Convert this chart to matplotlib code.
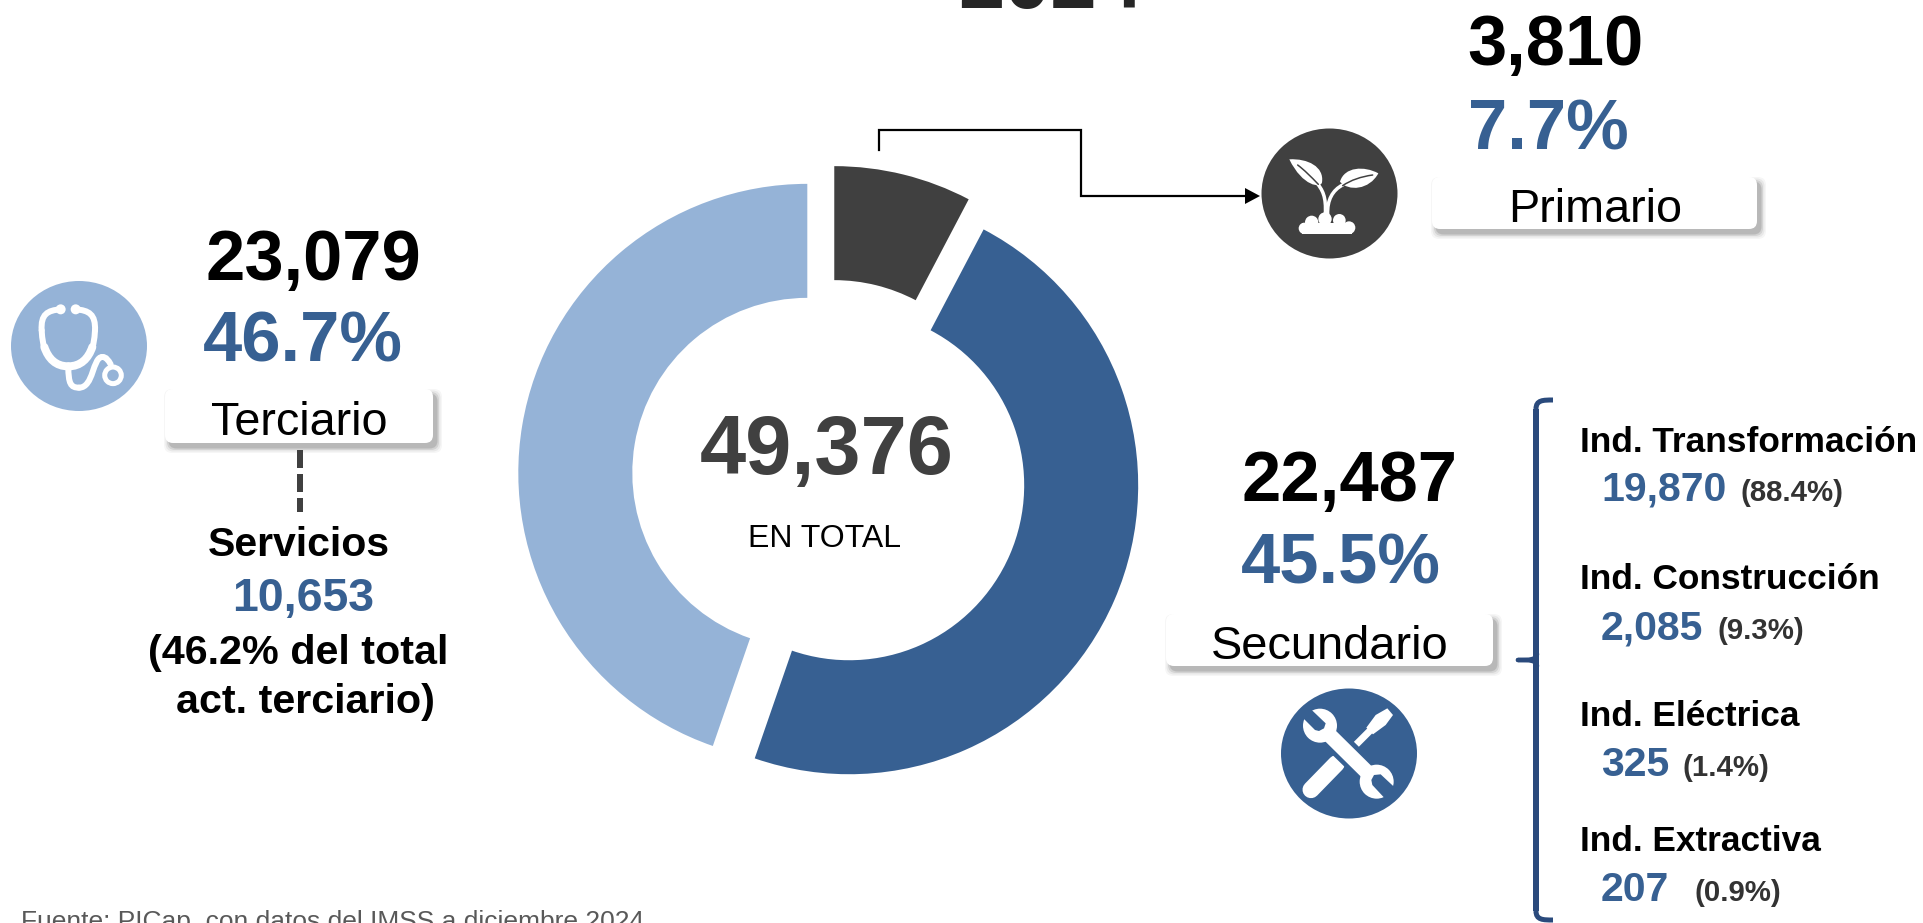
import matplotlib
matplotlib.use('Agg')
import matplotlib.pyplot as plt
from matplotlib.patches import Circle, Ellipse, FancyBboxPatch, PathPatch, Polygon
from matplotlib.path import Path

plt.rcParams['font.family'] = ['Liberation Sans', 'DejaVu Sans']

DARK = '#404040'
BLUE = '#376092'
LIGHT = '#95B3D7'
NAVY = '#2A4A7C'

# data
sectors = ['Primario', 'Secundario', 'Terciario']
workers = [3810, 22487, 23079]
shares = ['7.7%', '45.5%', '46.7%']
# the slices in the picture are not quite the printed shares, these are read off the ring
ring_shares = [7.7, 47.6, 44.7]
sector_colors = [DARK, BLUE, LIGHT]
total = '49,376'
year = '2024'

industries = ['Ind. Transformación', 'Ind. Construcción', 'Ind. Eléctrica', 'Ind. Extractiva']
industry_values = ['19,870', '2,085', '325', '207']
industry_shares = ['(88.4%)', '(9.3%)', '(1.4%)', '(0.9%)']
servicios_value = '10,653'
source = 'Fuente: PICap, con datos del IMSS a diciembre 2024'

H = 923
fig = plt.figure(figsize=(19.24, 9.23), dpi=100)
ax = fig.add_axes([0, 0, 1, 1])


def Y(y):
    return H - y


def txt(x, y, s, px, color='black', bold=False, ha='center', zorder=4):
    ax.text(x, Y(y), s, fontsize=px * 0.72, color=color, ha=ha, va='baseline',
            fontweight='bold' if bold else 'normal', zorder=zorder)


def box(x0, y0, x1, y1):
    # soft shadow, then the white label
    for grow, alpha in [(5, 0.04), (3.5, 0.07), (2, 0.11), (0.5, 0.16)]:
        ax.add_patch(FancyBboxPatch((x0 + 4, Y(y1 + 5)), x1 - x0, y1 - y0,
                                    boxstyle='round,pad=%s,rounding_size=8' % grow,
                                    fc='#303030', ec='none', alpha=alpha, zorder=2))
    ax.add_patch(FancyBboxPatch((x0, Y(y1)), x1 - x0, y1 - y0,
                                boxstyle='round,pad=0,rounding_size=8',
                                fc='white', ec='none', zorder=3))


def curve(pts, lw, color='white', zorder=6, cap='round'):
    # start point then triples of bezier points
    codes = [Path.MOVETO] + [Path.CURVE4] * (len(pts) - 1)
    verts = [(x, Y(y)) for x, y in pts]
    ax.add_patch(PathPatch(Path(verts, codes), fc='none', ec=color, lw=lw * 0.72,
                           capstyle=cap, zorder=zorder))


def seg(p0, p1, lw, color='white', zorder=6, cap='round'):
    ax.plot([p0[0], p1[0]], [Y(p0[1]), Y(p1[1])], color=color, lw=lw * 0.72,
            solid_capstyle=cap, zorder=zorder)


def icon(x0, y0):
    return lambda pts: [(x0 + px / 3, y0 + py / 3) for px, py in pts]


def blob(pts, color='white', zorder=6):
    codes = [Path.MOVETO] + [Path.CURVE4] * (len(pts) - 1)
    verts = [(x, Y(y)) for x, y in pts]
    ax.add_patch(PathPatch(Path(verts, codes), fc=color, ec='none', zorder=zorder))


def poly(pts, color='white', zorder=6):
    ax.add_patch(Polygon([(x, Y(y)) for x, y in pts], fc=color, ec='none', zorder=zorder))


def dot(p, r, color='white', zorder=6):
    ax.add_patch(Circle((p[0], Y(p[1])), r, fc=color, ec='none', zorder=zorder))


def badge(x, y, color):
    # the icon discs are a bit wider than tall
    ax.add_patch(Ellipse((x, Y(y)), 136, 130, fc=color, ec='none', zorder=5))


# donut
ax.pie(ring_shares, colors=sector_colors, startangle=90, counterclock=False,
       radius=289, center=(829, Y(476.5)), explode=[22, 22, 22],
       wedgeprops={'width': 114, 'linewidth': 0})
ax.set_xlim(0, 1924)
ax.set_ylim(0, H)
ax.set_aspect('equal')
ax.axis('off')

txt(1051, 8, year, 83, color='#262626', bold=True)
txt(827, 474, total, 83, color=DARK, bold=True)
txt(824.5, 547, 'EN TOTAL', 32)

# primario
txt(1555, 65, f'{workers[0]:,}', 70.5, bold=True)
txt(1548, 150, shares[0], 70.5, color=BLUE, bold=True)
box(1432, 177, 1757, 229)
txt(1595, 222, sectors[0], 46.8)
ax.plot([879, 879, 1081, 1081, 1246], [Y(150), Y(130), Y(130), Y(196), Y(196)],
        color='black', lw=1.6, solid_joinstyle='miter')
poly([(1245, 188), (1245, 204), (1260, 196)], color='black')

# terciario
txt(313, 280, f'{workers[2]:,}', 70.5, bold=True)
txt(303, 362, shares[2], 70.5, color=BLUE, bold=True)
box(165, 389, 433, 443)
txt(299, 435, sectors[2], 46.8)
ax.plot([300, 300], [Y(450), Y(512)], color=DARK, lw=6 * 0.72, linestyle=(0, (3, 1)))
txt(299, 556, 'Servicios', 41, bold=True)
txt(303, 611, servicios_value, 46.5, color=BLUE, bold=True)
txt(298, 664, '(46.2% del total', 41.3, bold=True)
txt(305, 713, 'act. terciario)', 41.3, bold=True)

# secundario
txt(1350, 501, f'{workers[1]:,}', 70.5, bold=True)
txt(1341, 584, shares[1], 70.5, color=BLUE, bold=True)
box(1166, 614, 1493, 666)
txt(1330, 659, sectors[1], 47)

# bracket
curve([(1553, 400), (1543, 400), (1536, 400), (1536, 409)], 5, NAVY, 5, 'butt')
seg((1536, 409), (1536, 911), 6, NAVY, 5, 'butt')
curve([(1536, 911), (1536, 920), (1543, 920), (1553, 920)], 5, NAVY, 5, 'butt')
curve([(1537, 654), (1536, 660), (1530, 660), (1518, 660)], 4.5, NAVY, 5, 'round')
curve([(1537, 666), (1536, 660), (1530, 660), (1518, 660)], 4.5, NAVY, 5, 'round')

name_y = [452, 589, 726, 851]
value_y = [501, 639, 776, 901]
share_x = [1741, 1718, 1683, 1695]
for i in range(4):
    txt(1580, name_y[i], industries[i], 35.2, bold=True, ha='left')
    txt(1601, value_y[i], industry_values[i], 41, color=BLUE, bold=True, ha='left')
    txt(share_x[i], value_y[i], industry_shares[i], 29.4, color='#333333', bold=True, ha='left')

txt(21, 929, source, 26.4, color='#595959', ha='left')

# stethoscope icon
s = icon(9, 277)
badge(79, 346, LIGHT)
curve(s([(155, 97), (115, 100), (95, 112), (98, 160)]), 6)
curve(s([(98, 160), (100, 190), (102, 200), (106, 210)]), 6)
curve(s([(106, 210), (118, 245), (140, 268), (178, 268)]), 8)
curve(s([(200, 97), (240, 100), (260, 112), (258, 160)]), 6)
curve(s([(258, 160), (256, 190), (254, 200), (250, 210)]), 6)
curve(s([(250, 210), (238, 245), (215, 268), (178, 268)]), 8)
curve(s([(178, 268), (178, 320), (185, 332), (210, 332)]), 6)
curve(s([(210, 332), (255, 332), (250, 240), (280, 240)]), 6)
curve(s([(280, 240), (292, 240), (298, 250), (305, 262)]), 6)
dot(s([(155, 97)])[0], 5)
dot(s([(200, 97)])[0], 5)
ax.add_patch(Circle(((9 + 312 / 3), Y(277 + 295 / 3)), 8.3, fc=LIGHT, ec='white',
                    lw=5 * 0.72, zorder=6))

# plant icon
p = icon(1261, 125)
badge(1329.5, 193.5, DARK)
blob(p([(85, 103), (140, 100), (190, 125), (183, 172), (180, 190), (125, 185), (85, 103)]))
blob(p([(352, 145), (310, 122), (250, 125), (237, 170), (262, 200), (325, 195), (352, 145)]))
curve(p([(110, 120), (130, 135), (150, 155), (172, 178)]), 1.5, DARK, 7)
curve(p([(335, 150), (300, 155), (270, 165), (245, 182)]), 1.5, DARK, 7)
curve(p([(165, 170), (185, 195), (196, 215), (193, 268)]), 3.5)
curve(p([(245, 180), (215, 195), (198, 225), (200, 268)]), 3.5)
for cx, cy, r in [(130, 310, 17), (152, 292, 20), (192, 282, 20), (235, 286, 19), (264, 308, 19)]:
    dot(p([(cx, cy)])[0], r / 3)
poly(p([(122, 295), (272, 295), (272, 326), (122, 326)]))

# tools icon
t = icon(1279, 685)
badge(1349, 753.5, BLUE)
seg(*t([(96, 314), (172, 236)]), 17)
seg(*t([(232, 178), (275, 135)]), 7, cap='butt')
poly(t([(262, 128), (290, 90), (325, 70), (342, 90), (320, 120), (282, 148)]))
seg(*t([(128, 128), (292, 288)]), 24, color=BLUE, zorder=6.5, cap='butt')
seg(*t([(123, 122), (293, 290)]), 15, zorder=7, cap='butt')
dot(t([(123, 122)])[0], 17, zorder=7)
dot(t([(293, 290)])[0], 17, zorder=7)
poly(t([(95, 72), (140, 115), (135, 130), (120, 138), (108, 135), (68, 95)]), BLUE, 8)
poly(t([(350, 310), (305, 268), (285, 270), (277, 285), (280, 300), (322, 345)]), BLUE, 8)

fig.savefig('out.png', dpi=100, facecolor='white')
